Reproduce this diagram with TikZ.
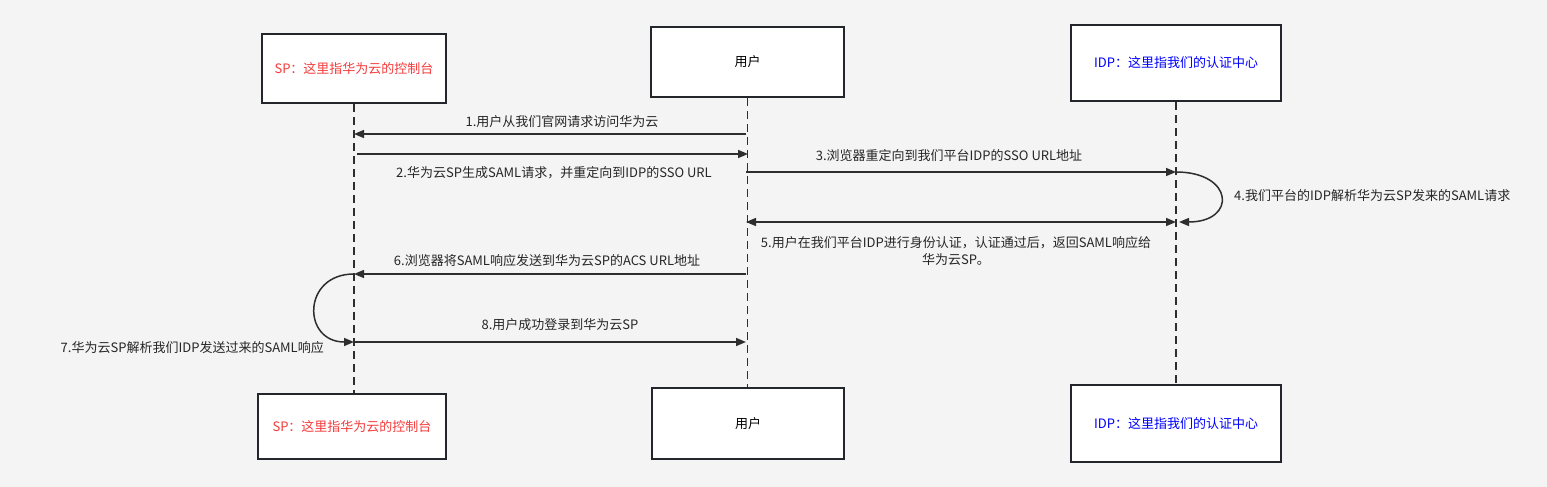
\documentclass[tikz,border=0pt]{standalone}
\usepackage{fontspec}
\setmainfont{Noto Sans CJK SC}
\usetikzlibrary{positioning, arrows.meta}
\definecolor{bgGray}{HTML}{F4F4F4}
\definecolor{lineGray}{HTML}{2E2E2E}
\definecolor{boxEdge}{HTML}{23272B}
\definecolor{spRed}{HTML}{F53B3B}
\definecolor{idpBlue}{HTML}{0000FF}

\begin{document}
\begin{tikzpicture}[
				x=1pt, y=-1pt,
				font=\fontsize{13}{16.5}\selectfont,
				actor/.style={draw=boxEdge, line width=2pt, fill=white, inner sep=0pt},
				life/.style={draw=lineGray, line width=1.5pt, dash pattern=on 8pt off 5pt},
				tip/.style={-{Triangle[length=10pt,width=8pt]}},
				msg/.style={draw=lineGray, line width=1.5pt, tip},
				lbl/.style={text=black!85, inner sep=1pt}
				]
				\fill[bgGray] (0,0) rectangle (1547,487);
				\useasboundingbox (0,0) rectangle (1547,487);
				% participants
				\node[actor, minimum width=184pt, minimum height=69pt, text=spRed] (spTop) at (354,68.5) {SP：这里指华为云的控制台};
				\node[actor, minimum width=193pt, minimum height=70pt] (userTop) at (747.5,62) {用户};
				\node[actor, minimum width=210pt, minimum height=76pt, text=idpBlue] (idpTop) at (1176,63) {IDP：这里指我们的认证中心};
				\node[actor, minimum width=188pt, minimum height=65pt, text=spRed] (spBot) at (352,426.5) {SP：这里指华为云的控制台};
				\node[actor, minimum width=192pt, minimum height=71pt] (userBot) at (748,423.5) {用户};
				\node[actor, minimum width=210pt, minimum height=77pt, text=idpBlue] (idpBot) at (1176,423.5) {IDP：这里指我们的认证中心};
				% lifelines
				\draw[life] (spTop.south) -- (spTop.south |- spBot.north);
				\draw[life] (userTop.south) -- (userTop.south |- userBot.north);
				\draw[life] (idpTop.south) -- (idpTop.south |- idpBot.north);
				% points on the lifelines
				\foreach \n/\y in {1/134, 2/154, 3/172, 5/222, 6/274, 8/342} {
					\coordinate (sp\n) at (354,\y);
					\coordinate (us\n) at (746,\y);
					\coordinate (idp\n) at (1176,\y);
				}
				% messages
				\draw[msg] (us1) -- (sp1);
				\node[lbl] (m1) at (562,122) {1.用户从我们官网请求访问华为云};
				\draw[msg] ([xshift=3pt]sp2) -- ([xshift=2pt]us2);
				\node[lbl] (m2) at (554,173) {2.华为云SP生成SAML请求，并重定向到IDP的SSO URL};
				\draw[msg] (us3) -- (idp3);
				\node[lbl] (m3) at (949,156) {3.浏览器重定向到我们平台IDP的SSO URL地址};
				\draw[msg] (idp3) .. controls +(58,0) and +(58,0) .. ([xshift=3pt]idp5);
				\node[lbl, anchor=west] (m4) at (1233,196) {4.我们平台的IDP解析华为云SP发来的SAML请求};
				\draw[msg, {Triangle[length=10pt,width=8pt]}-{Triangle[length=10pt,width=8pt]}] (us5) -- (idp5);
				\node[lbl, align=center] (m5) at (956,251) {5.用户在我们平台IDP进行身份认证，认证通过后，返回SAML响应给\\华为云SP。};
				\draw[msg] (us6) -- (sp6);
				\node[lbl] (m6) at (547,261) {6.浏览器将SAML响应发送到华为云SP的ACS URL地址};
				\draw[msg] (sp6) .. controls +(-52,0) and +(-52,0) .. (sp8);
				\node[lbl, anchor=east] (m7) at (325,348) {7.华为云SP解析我们IDP发送过来的SAML响应};
				\draw[msg] (sp8) -- (us8);
				\node[lbl] (m8) at (560,325) {8.用户成功登录到华为云SP};
			\end{tikzpicture}
\end{document}
